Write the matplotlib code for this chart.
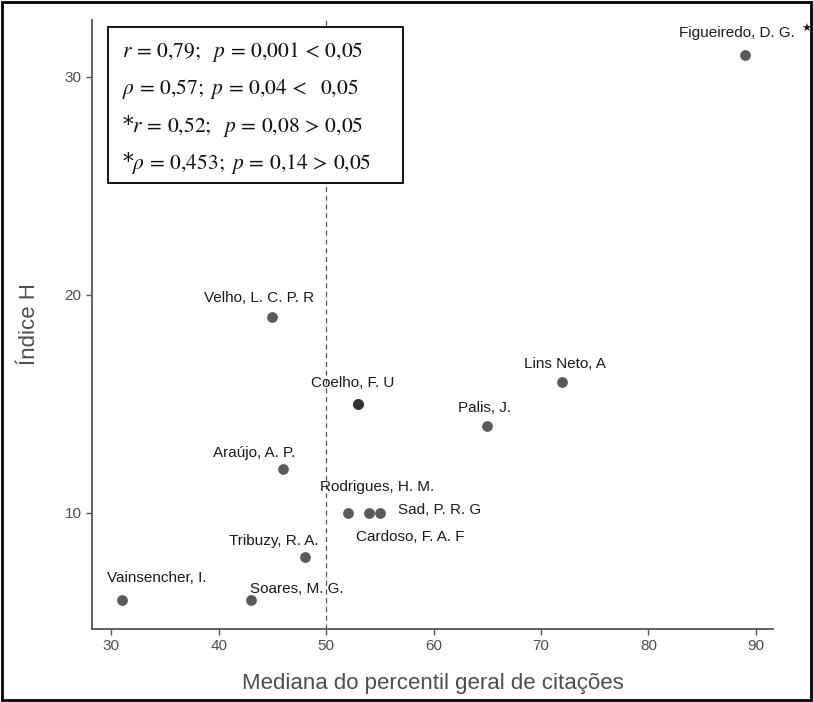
import matplotlib.pyplot as plt
from matplotlib.patches import Rectangle

# data
names = ['Figueiredo, D. G.', 'Velho, L. C. P. R', 'Lins Neto, A', 'Coelho, F. U',
         'Palis, J.', 'Araújo, A. P.', 'Rodrigues, H. M.', 'Cardoso, F. A. F',
         'Sad, P. R. G', 'Tribuzy, R. A.', 'Vainsencher, I.', 'Soares, M. G.']
percentil = [89, 45, 72, 53, 65, 46, 52, 54, 55, 48, 31, 43]
indice_h = [31, 19, 16, 15, 14, 12, 10, 10, 10, 8, 6, 6]

# label offsets in pixels (dx, dy) and horizontal alignment
offsets = {
    'Figueiredo, D. G.': (-8, 22, 'center'),
    'Velho, L. C. P. R': (-13, 19, 'center'),
    'Lins Neto, A': (2, 18, 'center'),
    'Coelho, F. U': (-6, 21, 'center'),
    'Palis, J.': (-3, 18, 'center'),
    'Araújo, A. P.': (-29, 16, 'center'),
    'Rodrigues, H. M.': (29, 26, 'center'),
    'Cardoso, F. A. F': (41, -24, 'center'),
    'Sad, P. R. G': (18, 3, 'left'),
    'Tribuzy, R. A.': (-31, 16, 'center'),
    'Vainsencher, I.': (35, 22, 'center'),
    'Soares, M. G.': (-1, 11, 'left'),
}

stats = [r'$r\,=\,0{,}79;\ \ p\,=\,0{,}001\,<\,0{,}05$',
         r'$\rho\,=\,0{,}57;\ p\,=\,0{,}04\,<\ \ 0{,}05$',
         r'*$r\,=\,0{,}52;\ \ p\,=\,0{,}08\,>\,0{,}05$',
         r'*$\rho\,=\,0{,}453;\ p\,=\,0{,}14\,>\,0{,}05$']

plt.rcParams['font.family'] = ['Liberation Sans', 'DejaVu Sans']
plt.rcParams['mathtext.fontset'] = 'stix'

fig = plt.figure(figsize=(8.13, 7.02), dpi=100)
ax = fig.add_axes([92 / 813, 1 - 629 / 702, (773 - 92) / 813, (629 - 20) / 702])

ax.axvline(50, color='#555555', lw=0.9, ls=(0, (4, 3)), zorder=1)
ax.scatter(percentil, indice_h, s=60, color='#5a5a5a', zorder=3, linewidths=0)
i = names.index('Coelho, F. U')
ax.scatter([percentil[i]], [indice_h[i]], s=60, color='#333333', zorder=4, linewidths=0)

for n, x, y in zip(names, percentil, indice_h):
    dx, dy, ha = offsets[n]
    ax.annotate(n, (x, y), xytext=(dx * 0.72, dy * 0.72), textcoords='offset points',
                ha=ha, va='center', fontsize=11, color='#1a1a1a')
# star after Figueiredo
j = names.index('Figueiredo, D. G.')
ax.annotate('★', (percentil[j], indice_h[j]), xytext=(61 * 0.72, 26 * 0.72),
            textcoords='offset points', ha='center', va='center', fontsize=8,
            color='#1a1a1a', family=['DejaVu Sans'])

ax.set_xlim(28.2, 91.6)
ax.set_ylim(4.68, 32.6)
ax.set_xticks([30, 40, 50, 60, 70, 80, 90])
ax.set_yticks([10, 20, 30])

for s in ['top', 'right']:
    ax.spines[s].set_visible(False)
for s in ['left', 'bottom']:
    ax.spines[s].set_color('#555555')
    ax.spines[s].set_linewidth(1.3)
ax.tick_params(colors='#555555', labelcolor='#4d4d4d', labelsize=11, length=4, width=1)

ax.set_xlabel('Mediana do percentil geral de citações', fontsize=16, color='#4d4d4d', labelpad=14)
ax.set_ylabel('Índice H', fontsize=16, color='#4d4d4d', labelpad=18)

# stats box
fig.patches.append(Rectangle((108 / 813, 1 - 183 / 702), (403 - 108) / 813, (183 - 27) / 702,
                             transform=fig.transFigure, fill=True, facecolor='white',
                             edgecolor='black', lw=1.3, zorder=5))
for k, t in enumerate(stats):
    fig.text(122 / 813, 1 - (52 + 37 * k) / 702, t, fontsize=15.5, ha='left', va='center',
             color='#111111', zorder=6, family=['DejaVu Serif'])

# outer frame
fig.patches.append(Rectangle((0.003, 0.003), 0.994, 0.994, transform=fig.transFigure,
                             fill=False, edgecolor='black', lw=2))

fig.savefig('out.png', dpi=100)
